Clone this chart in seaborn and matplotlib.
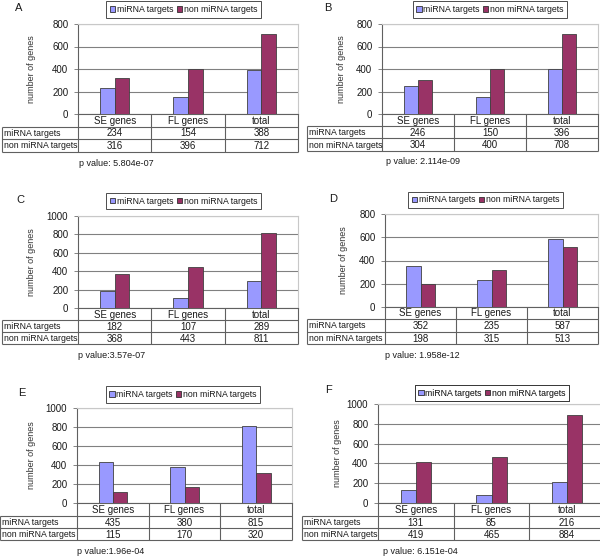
import numpy as np
import pandas as pd
import matplotlib
matplotlib.use("Agg")
import matplotlib.pyplot as plt
import seaborn as sns
from matplotlib.patches import Patch

# ---------------- data ----------------
categories = ["SE genes", "FL genes", "total"]
series_names = ["miRNA targets", "non miRNA targets"]
panel_letters = ["A", "B", "C", "D", "E", "F"]

mirna_A = [234, 154, 388]
non_A = [316, 396, 712]
mirna_B = [246, 150, 396]
non_B = [304, 400, 708]
mirna_C = [182, 107, 289]
non_C = [368, 443, 811]
mirna_D = [352, 235, 587]
non_D = [198, 315, 513]
mirna_E = [435, 380, 815]
non_E = [115, 170, 320]
mirna_F = [131, 85, 216]
non_F = [419, 465, 884]

p_texts = ["p value: 5.804e-07", "p value: 2.114e-09", "p value:3.57e-07",
           "p value: 1.958e-12", "p value:1.96e-04", "p value: 6.151e-04"]
y_max = [800, 800, 1000, 800, 1000, 1000]
y_step = 200

mirna_all = [mirna_A, mirna_B, mirna_C, mirna_D, mirna_E, mirna_F]
non_all = [non_A, non_B, non_C, non_D, non_E, non_F]

# ---------------- style ----------------
sns.set_theme(style="white")
plt.rcParams["font.family"] = ["Liberation Sans", "DejaVu Sans"]
colors = ["#9999FF", "#993366"]
FS = 6.5
TXT = "#1a1a1a"
LINE = "#606060"

W, H = 600, 556
fig = plt.figure(figsize=(W / 100, H / 100), dpi=100)

ov = fig.add_axes([0, 0, 1, 1], zorder=0)
ov.set_xlim(0, W)
ov.set_ylim(H, 0)
ov.axis("off")
ov.patch.set_visible(False)

# layout in pixels: axes (left, right, top, bottom)
layout = [
    dict(letter=(19, 8), legend=(183.5, 9.5), ax=(78, 298, 24, 114), tl=2,
         rows=(114, 127, 139, 152), p=(79, 164), ylab=32),
    dict(letter=(328, 8), legend=(490, 9.5), ax=(382, 598, 24, 114), tl=307,
         rows=(114, 126, 138, 151), p=(386, 162), ylab=342),
    dict(letter=(20, 200), legend=(183.5, 201), ax=(78, 298, 216, 308), tl=2,
         rows=(308, 320, 332, 344), p=(78, 356), ylab=32),
    dict(letter=(333, 199), legend=(485.5, 200), ax=(385, 598, 214, 307), tl=307,
         rows=(307, 319, 332, 344), p=(385, 355), ylab=343),
    dict(letter=(22, 393), legend=(183, 394.5), ax=(77, 292, 408, 503), tl=0,
         rows=(503, 516, 528, 540), p=(77, 552), ylab=32),
    dict(letter=(328, 390), legend=(492, 393), ax=(378, 605, 404, 503), tl=302,
         rows=(503, 516, 528, 540), p=(383, 552), ylab=337),
]

handles = [Patch(facecolor=colors[0], edgecolor="#303030", linewidth=0.6),
           Patch(facecolor=colors[1], edgecolor="#303030", linewidth=0.6)]

for i, lay in enumerate(layout):
    l, r, t, b = lay["ax"]
    ax = fig.add_axes([l / W, 1 - b / H, (r - l) / W, (b - t) / H], zorder=2)
    df = pd.DataFrame({
        "category": categories * 2,
        "series": [series_names[0]] * 3 + [series_names[1]] * 3,
        "value": mirna_all[i] + non_all[i],
    })
    sns.barplot(data=df, x="category", y="value", hue="series",
                hue_order=series_names, palette=colors, saturation=1,
                width=0.4, edgecolor="#404040", linewidth=0.6,
                legend=False, ax=ax, zorder=3)
    ax.set_xlim(-0.5, 2.5)
    ax.set_ylim(0, y_max[i])
    ax.set_yticks(np.arange(0, y_max[i] + 1, y_step))
    ax.set_xticks([])
    ax.set_xlabel("")
    ax.set_ylabel("")
    ax.yaxis.grid(True, color="#808080", linewidth=0.8)
    ax.set_axisbelow(True)
    ax.tick_params(axis="y", labelsize=FS + 0.5, labelcolor=TXT, length=3,
                   width=0.6, color="#707070", direction="out", pad=4, left=True)
    for s in ["left", "bottom"]:
        ax.spines[s].set_color("#606060")
        ax.spines[s].set_linewidth(0.8)
    for s in ["top", "right"]:
        ax.spines[s].set_color("#c8c8c8")
        ax.spines[s].set_linewidth(0.8)

    # panel letter
    ov.text(*lay["letter"], panel_letters[i], fontsize=FS + 1.5, color=TXT,
            ha="center", va="center")
    # y label
    ov.text(lay["ylab"], (t + b) / 2, "number of genes", rotation=90,
            fontsize=FS, color="#333333", ha="center", va="center")
    # legend
    leg = ov.legend(handles, series_names, loc="center",
                    bbox_to_anchor=lay["legend"],
                    bbox_transform=ov.transData, ncol=2, frameon=True,
                    fancybox=False, edgecolor="#202020", fontsize=FS - 0.2,
                    handlelength=0.6, handleheight=0.6, handletextpad=0.2,
                    columnspacing=0.35, borderpad=0.45, borderaxespad=0)
    leg.get_frame().set_linewidth(0.7)
    for txt in leg.get_texts():
        txt.set_color(TXT)
    ov.add_artist(leg)

    # data table
    tl = lay["tl"]
    r0, r1, r2, r3 = lay["rows"]
    colw = (r - l) / 3
    xs = [l + k * colw for k in range(4)]
    for x in xs:
        ov.plot([x, x], [r0, r3], color=LINE, lw=0.8, solid_capstyle="butt")
    ov.plot([tl, tl], [r1, r3], color=LINE, lw=0.8, solid_capstyle="butt")
    for y in (r1, r2, r3):
        ov.plot([tl, r], [y, y], color=LINE, lw=0.8, solid_capstyle="butt")
    for k, cat in enumerate(categories):
        cx = l + (k + 0.5) * colw
        ov.text(cx, (r0 + r1) / 2 + 0.5, cat, fontsize=FS + 0.5, color=TXT,
                ha="center", va="center")
        ov.text(cx, (r1 + r2) / 2 + 0.5, str(mirna_all[i][k]), fontsize=FS + 0.5,
                color=TXT, ha="center", va="center")
        ov.text(cx, (r2 + r3) / 2 + 0.5, str(non_all[i][k]), fontsize=FS + 0.5,
                color=TXT, ha="center", va="center")
    ov.text(tl + 2, (r1 + r2) / 2 + 0.5, series_names[0], fontsize=FS - 0.2,
            color=TXT, ha="left", va="center")
    ov.text(tl + 2, (r2 + r3) / 2 + 0.5, series_names[1], fontsize=FS - 0.2,
            color=TXT, ha="left", va="center")
    # p value
    ov.text(lay["p"][0], lay["p"][1], p_texts[i], fontsize=FS, color=TXT,
            ha="left", va="center")

fig.savefig("out.png", dpi=100)
